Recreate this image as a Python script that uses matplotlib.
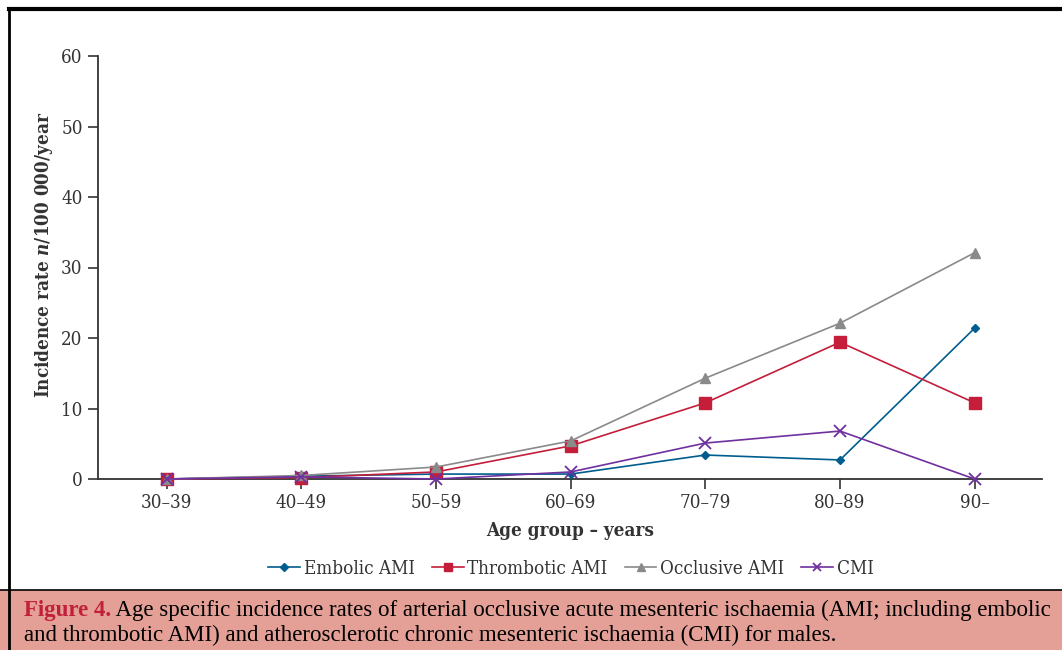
import numpy as np
import matplotlib
matplotlib.use('Agg')
import matplotlib.pyplot as plt
from matplotlib.patches import Rectangle

#-------------------------------------------------------------------------------
# Data
#-------------------------------------------------------------------------------
age_groups  = ['30–39', '40–49', '50–59', '60–69', '70–79', '80–89', '90–']
embolic     = [0.0, 0.4, 0.7, 0.7, 3.4, 2.7, 21.4]
thrombotic  = [0.0, 0.2, 1.0, 4.7, 10.8, 19.4, 10.8]
occlusive   = [0.0, 0.5, 1.7, 5.4, 14.3, 22.1, 32.1]
cmi         = [0.0, 0.3, 0.0, 1.0, 5.1, 6.8, 0.0]
series_names = ['Embolic AMI', 'Thrombotic AMI', 'Occlusive AMI', 'CMI']
y_ticks     = [0, 10, 20, 30, 40, 50, 60]

caption_head = 'Figure 4.'
caption_l1   = ' Age specific incidence rates of arterial occlusive acute mesenteric ischaemia (AMI; including embolic'
caption_l2   = 'and thrombotic AMI) and atherosclerotic chronic mesenteric ischaemia (CMI) for males.'

#-------------------------------------------------------------------------------
# Settings
#-------------------------------------------------------------------------------
plt.rcParams['font.family'] = ['DejaVu Serif']
plt.rcParams['font.stretch'] = 'condensed'
plt.rcParams['mathtext.fontset'] = 'dejavuserif'
fs = 13.5
W, H = 1062, 650
fig = plt.figure(figsize=(W/100, H/100), dpi=100)

# background layer: outer frame and caption box
bg = fig.add_axes([0, 0, 1, 1])
bg.set_xlim(0, W); bg.set_ylim(H, 0); bg.axis('off')
bg.add_patch(Rectangle((0, 590), W, 60, facecolor='#e4a096', edgecolor='none'))
bg.plot([0, W], [590, 590], color='black', lw=1.2)
bg.plot([9, W], [9, 9], color='black', lw=3)
bg.plot([9, 9], [9, H], color='black', lw=2)

cap_font = dict(family='Liberation Serif', fontsize=16.5)
t1 = bg.text(24, 616, caption_head, color='#c0203a', fontweight='bold', va='baseline', **cap_font)
bg.annotate(caption_l1, xy=(1, 0), xycoords=t1, va='bottom', color='black', **cap_font)
bg.text(24, 641, caption_l2, color='black', va='baseline', **cap_font)

#-------------------------------------------------------------------------------
# Chart
#-------------------------------------------------------------------------------
ax = fig.add_axes([98/W, 1-479/H, (1042-98)/W, (479-56)/H])
x = np.arange(len(age_groups))

styles = [
    dict(color='#005d8f', marker='D', ms=4.5, lw=1.2),
    dict(color='#c41e3a', marker='s', ms=8,   lw=1.2),
    dict(color='#8a8a8a', marker='^', ms=7.5, lw=1.2),
    dict(color='#7030a0', marker='x', ms=8,   lw=1.2, mew=1.3),
]
for vals, name, st in zip([embolic, thrombotic, occlusive, cmi], series_names, styles):
    ax.plot(x, vals, label=name, clip_on=False, zorder=3, **st)

ax.set_xlim(-0.51, 6.5)
ax.set_ylim(0, 60)
ax.set_yticks(y_ticks)
ax.set_xticks(x)
ax.set_xticklabels(age_groups)
for s in ['top', 'right']:
    ax.spines[s].set_visible(False)
for s in ['left', 'bottom']:
    ax.spines[s].set_color('#333333')
    ax.spines[s].set_linewidth(1.3)
ax.tick_params(axis='both', direction='out', length=7, width=1.2, color='#333333',
               labelsize=fs, labelcolor='#333333', pad=4)

ax.set_xlabel('Age group – years', fontsize=fs, fontweight='bold', color='#333333', labelpad=7)
ax.set_ylabel('Incidence rate $\\mathbfit{n}$/100 000/year', fontsize=fs, fontweight='bold',
              color='#333333', labelpad=10)
ax.yaxis.set_label_coords(-0.046, 0.53)

fig.legend(loc='center', bbox_to_anchor=(571/W, 1-569/H), ncol=4, frameon=False,
           fontsize=fs, handlelength=1.7, handletextpad=0.2, columnspacing=0.9,
           markerscale=0.8, labelcolor='#333333')

plt.savefig('out.png', dpi=100)
plt.close()
